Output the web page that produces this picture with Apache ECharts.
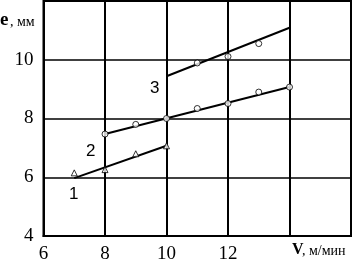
<!DOCTYPE html>
<html><head><meta charset="utf-8">
<script src="https://cdn.jsdelivr.net/npm/echarts@6/dist/echarts.min.js"></script>
<style>html,body{margin:0;padding:0;background:#fff}#c{width:354px;height:264px}</style>
</head><body><div id="c"></div>
<script>
// Fitted lines (endpoints)
const line1 = [[7, 5.97], [10, 7.07]];
const line2 = [[8, 7.47], [14, 9.07]];
const line3 = [[10, 9.44], [14, 11.09]];
// Measured points
const pts1 = [[7, 6.15], [8, 6.26], [9, 6.8], [10, 7.07]];
const pts2 = [[8, 7.47], [9, 7.8], [10, 8.0], [11, 8.34], [12, 8.51], [13, 8.9], [14, 9.07]];
const pts3 = [[11, 9.89], [12, 10.11], [13, 10.55]];
const xTicks = [6, 8, 10, 12];
const yTicks = [4, 6, 8, 10];
const curveLabels = ['1', '2', '3'];

const chart = echarts.init(document.getElementById('c'), null, {renderer: 'canvas'});
const serif = 'Liberation Serif';
const lineSeries = (d) => ({type: 'line', data: d, symbol: 'none', lineStyle: {color: '#000', width: 2}, silent: true, z: 3});
const ptSeries = (d, sym, s) => ({type: 'scatter', data: d, symbol: sym, symbolSize: s,
  itemStyle: {color: '#fff', borderColor: '#000', borderWidth: 1}, z: 4});
chart.setOption({
  animation: false,
  grid: {left: 43.5, right: 2, top: 1, bottom: 26, show: true, borderColor: '#000', borderWidth: 2, backgroundColor: 'transparent'},
  xAxis: {type: 'value', min: 6, max: 16, interval: 2,
    axisLine: {lineStyle: {color: '#000', width: 2}}, axisTick: {show: false},
    splitLine: {lineStyle: {color: '#000', width: 2}},
    axisLabel: {color: '#000', fontFamily: serif, fontSize: 19, margin: 9,
      formatter: v => xTicks.includes(v) ? String(v) : ''}},
  yAxis: {type: 'value', min: 4, max: 12, interval: 2,
    axisLine: {show: true, lineStyle: {color: '#000', width: 1.5}}, axisTick: {show: false},
    splitLine: {lineStyle: {color: '#000', width: 1.5}},
    axisLabel: {color: '#000', fontFamily: serif, fontSize: 19, margin: 10,
      formatter: v => yTicks.includes(v) ? String(v) : ''}},
  graphic: [
    {type: 'text', left: 0, top: 11, style: {text: 'e', font: 'bold 19px "Liberation Serif"', fill: '#000'}},
    {type: 'text', left: 10, top: 15, style: {text: ', мм', font: '14px "Liberation Serif"', fill: '#000'}},
    {type: 'text', left: 292, top: 242, style: {text: 'V', font: 'bold 16px "Liberation Serif"', fill: '#000'}},
    {type: 'text', left: 302, top: 244, style: {text: ', м/мин', font: '14px "Liberation Serif"', fill: '#000'}},
    {type: 'text', left: 69, top: 186, style: {text: curveLabels[0], font: '17px "Liberation Sans"', fill: '#000'}},
    {type: 'text', left: 86, top: 143, style: {text: curveLabels[1], font: '17px "Liberation Sans"', fill: '#000'}},
    {type: 'text', left: 150, top: 80, style: {text: curveLabels[2], font: '17px "Liberation Sans"', fill: '#000'}}
  ],
  series: [
    lineSeries(line1), lineSeries(line2), lineSeries(line3),
    ptSeries(pts1, 'triangle', 6), ptSeries(pts2, 'circle', 6), ptSeries(pts3, 'circle', 6)
  ]
});
</script></body></html>
